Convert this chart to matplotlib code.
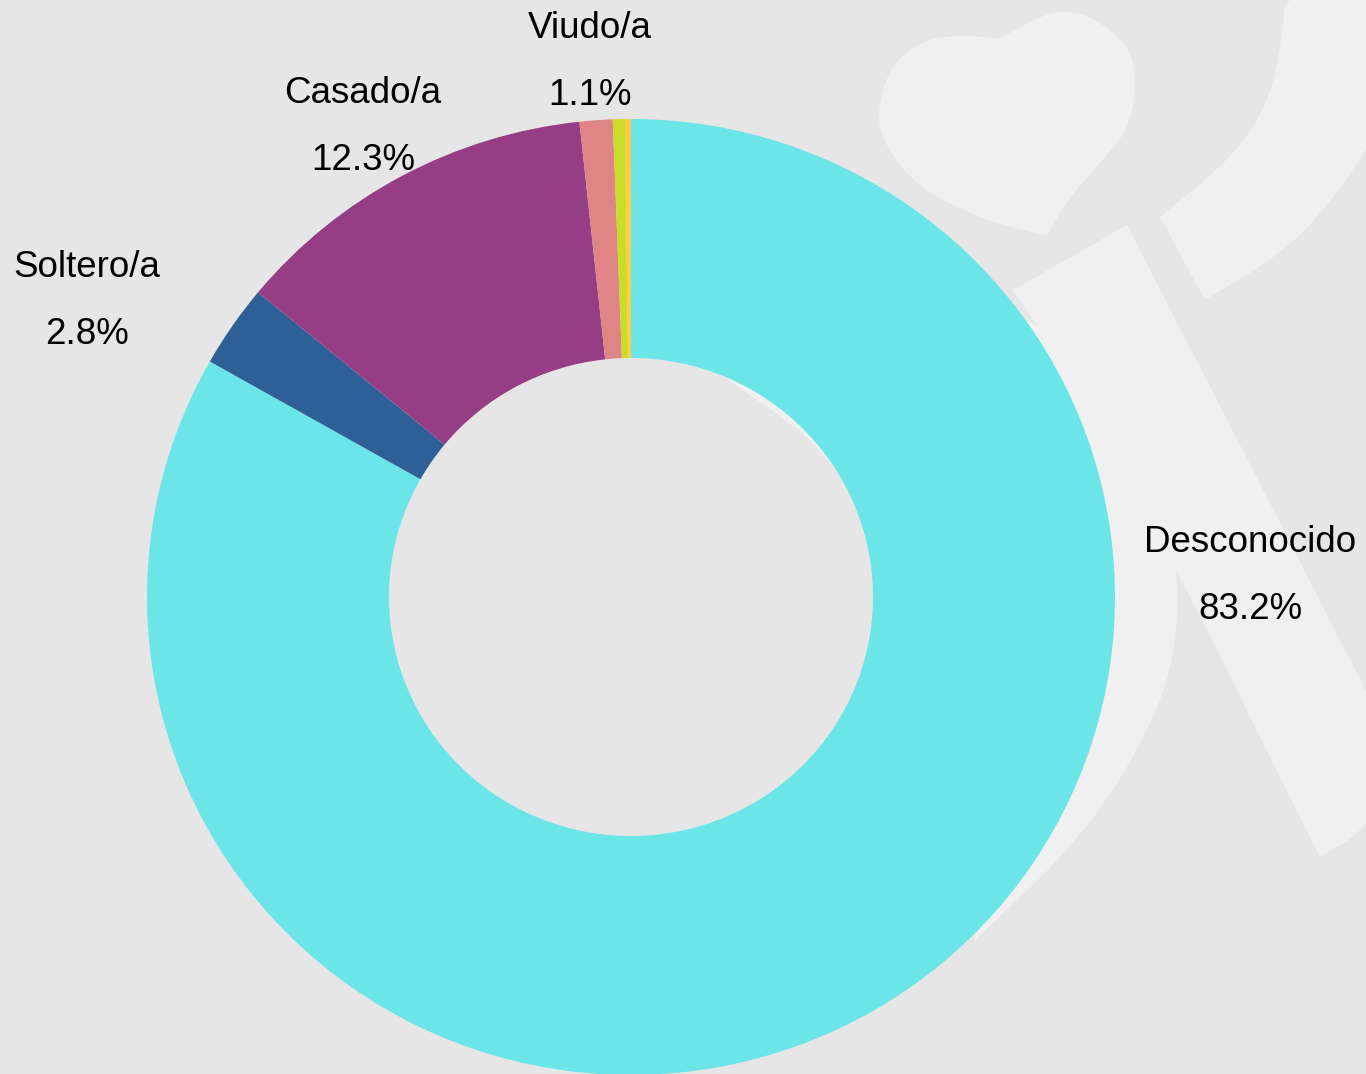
import matplotlib.pyplot as plt
import numpy as np
from matplotlib.patches import Polygon

categories = ["Desconocido", "Soltero/a", "Casado/a", "Viudo/a", "Divorciado/a", "Separado/a"]
values = [83.2, 2.8, 12.3, 1.1, 0.4, 0.2]
colors = ["#6be5e8", "#2e5f96", "#953e86", "#e08585", "#c9dc26", "#ffcc44"]

# label anchor points (pixels, x centre / y baseline of the name line)
label_pos = {"Desconocido": (1250, 552), "Soltero/a": (87, 277),
             "Casado/a": (363, 103), "Viudo/a": (590, 38)}

W, H = 1366, 1074
CX, CY = 631, 597
RX, RY = 484, 478
BG = "#e6e6e6"
MARK = "#f0f0f0"


def px(pts):
    return [((x - CX) / RX, (CY - y) / RY) for x, y in pts]


def smooth(pts, n=4):
    # chaikin corner cutting for the background logo shapes
    p = np.array(pts, float)
    for _ in range(n):
        q = np.roll(p, -1, axis=0)
        p = np.column_stack([0.75 * p + 0.25 * q, 0.25 * p + 0.75 * q]).reshape(-1, 2)
    return p


fig = plt.figure(figsize=(W / 100, H / 100), dpi=100, facecolor=BG)
ax = fig.add_axes([0, 0, 1, 1])
ax.set_facecolor(BG)

# faint logo in the background
heart = [(1000, 38), (1067, 3), (1127, 40), (1137, 77), (1130, 127), (1103, 160),
         (1067, 200), (1047, 236), (1047, 236), (983, 220), (917, 187), (883, 143),
         (877, 110), (890, 67), (917, 43), (950, 35), (1000, 38)]
band = [(1285, -10), (1283, 33), (1270, 100), (1233, 157), (1160, 217), (1160, 217),
        (1205, 300), (1205, 300), (1283, 253), (1333, 200), (1366, 150), (1400, 100), (1400, -10)]
bar = [(1013, 290), (1013, 290), (1127, 225), (1127, 225), (1366, 690), (1400, 760),
       (1366, 830), (1320, 857), (1320, 857), (1177, 570), (1100, 420)]
crescent = [(975, 940), (975, 940), (960, 760), (900, 560), (820, 447), (772, 410), (723, 377),
            (690, 350), (760, 300), (1013, 290), (1130, 420), (1180, 560), (1175, 660),
            (1145, 740), (1080, 840)]
for shape in (heart, band, bar, crescent):
    ax.add_patch(Polygon(px(smooth(shape, 3)), closed=True, facecolor=MARK,
                         edgecolor="none", zorder=0))

ax.pie(values, colors=colors, startangle=90, counterclock=False, radius=1,
       wedgeprops=dict(width=0.5, edgecolor="none", linewidth=0))

for name, v in zip(categories, values):
    if name not in label_pos:
        continue
    x, y = label_pos[name]
    (lx, ly), = px([(x, y)])
    (_, ly2), = px([(x, y + 67)])
    ax.text(lx, ly, name, ha="center", va="baseline", fontsize=26.5,
            family="Liberation Sans", color="black")
    ax.text(lx, ly2, f"{v:.1f}%", ha="center", va="baseline", fontsize=26.5,
            family="Liberation Sans", color="black")

ax.set_xlim(-CX / RX, (W - CX) / RX)
ax.set_ylim(-(H - CY) / RY, CY / RY)
ax.set_aspect("auto")
ax.axis("off")

fig.savefig("out.png", dpi=100, facecolor=BG)
